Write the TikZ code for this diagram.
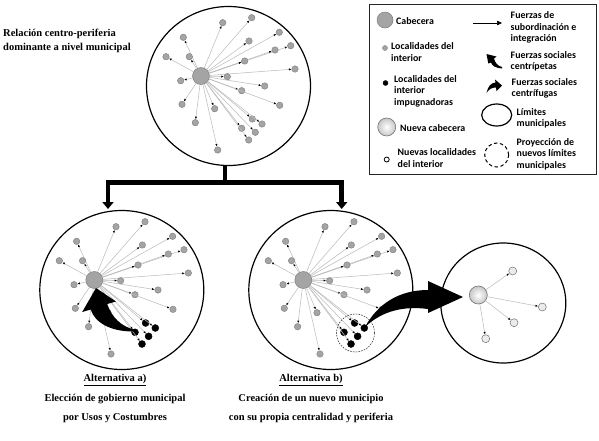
\documentclass[tikz,border=0pt]{standalone}
\usepackage{fontspec}
\setmainfont{Liberation Serif}
\newfontfamily\legfont{Carlito}
\usetikzlibrary{arrows.meta,shapes.geometric,calc,shadings}
\definecolor{satfill}{HTML}{A4A4A4}
\definecolor{satdraw}{HTML}{7E7E7E}
\definecolor{linkc}{HTML}{BDBDBD}
\newcommand\mycluster[3]{%
  \node[hub] (#1h) at (#2) {};
  \foreach \i/\dx/\dy/\k in {1/50.7/-58.3/0, 2/21.7/-53.3/0, 3/78.3/-43.7/0, 4/-17.7/-38.7/0, 5/48/-35/0, 6/89.7/-30.3/0, 7/74/-26/0, 8/-11.7/-19.3/0, 9/-35/-19.3/0, 10/43.7/-15/0, 11/94/-7/0, 12/26.3/0.7/0, 13/-20.3/4.7/0, 14/63.7/10/0, 15/40.7/14.7/0, 16/-19/28.3/0, 17/78.7/29.3/0, 18/13.7/32.7/0, 19/51.3/43/1, 20/61/48/1, 21/-5.7/46.7/0, 22/40.7/52.3/1, 23/54.3/56.3/1, 24/47.7/64/1, 25/16.7/74/0}{%
    \ifnum\k=1 \ifnum#3=1 \def\fc{black}\def\dc{black}\def\ds{7pt}\else\def\fc{satfill}\def\dc{satdraw}\def\ds{6.5pt}\fi\else\def\fc{satfill}\def\dc{satdraw}\def\ds{6.5pt}\fi
    \node[dot, fill=\fc, draw=\dc, minimum size=\ds] (#1\i) at ($(#1h)+(\dx,\dy)$) {};
    \draw[link] (#1h) -- (#1\i);
  }%
}
\begin{document}
\begin{tikzpicture}[x=1pt,y=-1pt,
  bigc/.style={draw, line width=1.2pt, ellipse, inner sep=0, minimum width=164pt, minimum height=159pt},
  hub/.style={circle, inner sep=0, minimum size=17pt, fill=satfill, draw=satdraw, line width=0.5pt},
  dot/.style={circle, inner sep=0, minimum size=6.5pt, line width=0.4pt},
  newhub/.style={circle, inner sep=0, minimum size=18pt, inner color=white, outer color=black!22, draw=black!55, line width=0.6pt},
  newsat/.style={circle, inner sep=0, minimum size=8pt, fill=black!8, draw=black!55, line width=0.5pt},
  link/.style={draw=linkc, line width=0.55pt, -{Latex[length=2.6pt,width=2.2pt,color=black]}},
  leg/.style={font=\legfont\bfseries\fontsize{9.9}{11.4}\selectfont, align=left, anchor=west, inner sep=0},
  captext/.style={font=\bfseries\fontsize{10.5}{12}\selectfont, inner sep=0},
  tree/.style={line width=4.5pt, line join=miter}]
\useasboundingbox (0,0) rectangle (599,440);

% big circles
\node[bigc] (C1) at (228.5,86) {};
\node[bigc] (C2) at (121.8,290) {};
\node[bigc] (C3) at (330.8,290) {};
\node[bigc, minimum width=125pt, minimum height=120pt] (C4) at (503.3,303) {};

% clusters
\mycluster{T}{201,76}{0}
\mycluster{A}{94.3,280}{1}
\mycluster{B}{303.3,280}{1}

% new municipality
\node[newhub] (Nh) at (478.3,295) {};
\node[newsat] (N1) at (512.7,271) {};
\node[newsat] (N2) at (542.3,307) {};
\node[newsat] (N3) at (514,322.7) {};
\node[newsat] (N4) at (485.7,338.7) {};
\foreach \j in {1,...,4} \draw[link] (Nh) -- (N\j);

% dashed projection
\node[circle, draw=black!75, dash pattern=on 1.6pt off 1.2pt, line width=0.6pt, minimum size=38pt, inner sep=0] (D) at (355.5,333) {};

% tree connector
\coordinate (tj) at (225,182.7);
\coordinate (ta) at (108,209);
\coordinate (tb) at (341.7,209);
\draw[tree] (tj |- C1.south) -- (tj);
\draw[tree, -{Triangle[width=11pt,length=7pt]}] (tj) -| (ta);
\draw[tree, -{Triangle[width=11pt,length=7pt]}] (tj) -| (tb);

% centripetal big arrow
\fill[black] (133.3,331.5) .. controls (111,331.5) and (95,323) .. (90.7,309.5) -- (82.2,312) -- (96,288) -- (116,301.5) -- (107.2,304) .. controls (112,318) and (122,326.5) .. (133.3,329.3) -- cycle;

% centrifugal big arrow
\fill[black] (365,327) .. controls (378,303) and (400,290) .. (428,290) -- (428,281) -- (463,297) -- (428,313) -- (428,309) .. controls (405,306) and (383,310) .. cycle;

% titles
\node[captext, anchor=west] (ti1) at (3,33.5) {Relación centro-periferia};
\node[captext, anchor=west] (ti2) at (3,47.5) {dominante a nivel municipal};
\node[captext] (a1) at (115,380) {\underline{Alternativa a)}};
\node[captext] (a2) at (115,399) {Elección de gobierno municipal};
\node[captext] (a3) at (115,418) {por Usos y Costumbres};
\node[captext] (b1) at (311,380) {\underline{Alternativa b)}};
\node[captext] (b2) at (311,399) {Creación de un nuevo municipio};
\node[captext] (b3) at (311,418) {con su propia centralidad y periferia};

% legend
\node[draw=black!85, line width=1pt, minimum width=227pt, minimum height=170pt, inner sep=0] (legend) at (482.5,89) {};
\node[hub, minimum size=16pt] (lg1) at (385,20) {};
\node[leg] (lt1) at (396,21) {Cabecera};
\node[dot, minimum size=5pt, fill=satfill, draw=satdraw] (lg2) at (385,48) {};
\node[leg] (lt2) at (391,52) {Localidades del\\interior};
\node[dot, minimum size=5pt, fill=black, draw=black] (lg3) at (385.5,83) {};
\node[leg] (lt3) at (394,91) {Localidades del\\interior\\impugnadoras};
\node[newhub] (lg4) at (386.7,127) {};
\node[leg] (lt4) at (400,128) {Nueva cabecera};
\node[dot, minimum size=5pt, fill=white, draw=black, line width=0.8pt] (lg5) at (386.7,159.5) {};
\node[leg] (lt5) at (397.5,158) {Nuevas localidades\\del interior};
\coordinate (la1) at (473,23);
\coordinate (la2) at (502,23);
\draw[-{Triangle[length=5pt,width=4.5pt]}, line width=0.6pt] (la1) -- (la2);
\node[leg] (lt6) at (510.5,27.5) {Fuerzas de\\subordinación e\\integración};
\fill[black] (502,68.5) .. controls (496,68) and (492,66) .. (491,62.5) -- (488.3,63.5) -- (486.5,54) -- (496.5,56.5) -- (494,58.5) .. controls (495,63) and (498,66) .. (502,67) -- cycle;
\node[leg] (lt7) at (510.5,61.5) {Fuerzas sociales\\centrípetas};
\fill[black] (486.5,93) .. controls (488,86) and (491,83) .. (495.5,82.5) -- (495,79.5) -- (502,85.5) -- (496.5,91) -- (496,87.5) .. controls (492,87.5) and (489,89) .. cycle;
\node[leg] (lt8) at (511.5,88.5) {Fuerzas sociales\\centrífugas};
\node[ellipse, draw, line width=1.2pt, minimum width=30pt, minimum height=22pt, inner sep=0] (lg8) at (496.7,115) {};
\node[leg] (lt9) at (516.5,118) {Límites\\municipales};
\node[circle, draw, dash pattern=on 3.5pt off 2.5pt, line width=1pt, minimum size=24pt, inner sep=0] (lg9) at (496.7,155) {};
\node[leg] (lt10) at (516.5,154) {Proyección de\\nuevos límites\\municipales};
\end{tikzpicture}
\end{document}
